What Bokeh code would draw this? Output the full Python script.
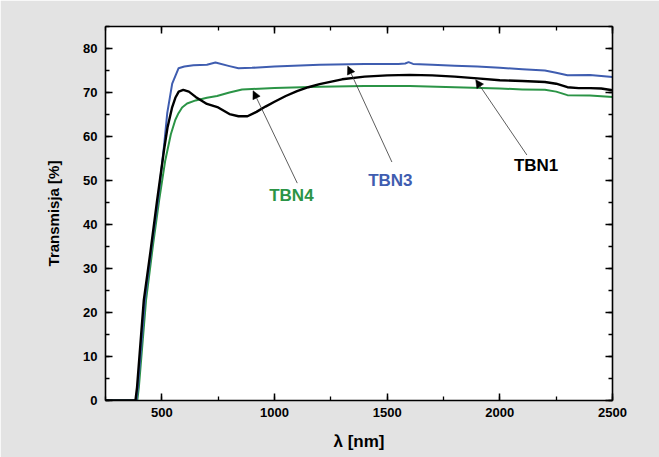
from bokeh.plotting import figure
from bokeh.models import (LinearAxis, SingleIntervalTicker, Arrow, NormalHead,
                          Range1d, ColumnDataSource, BoxAnnotation)
from bokeh.core.properties import value
from bokeh.embed import file_html
from bokeh.resources import INLINE

# ---------------- data ----------------
tbn1_wl = [250, 383, 390, 420, 450, 479, 510, 525, 545, 560, 575, 595, 620, 650, 675,
           700, 750, 800, 840, 880, 920, 960, 1000, 1050, 1100, 1150, 1200, 1300, 1400,
           1500, 1600, 1700, 1800, 1900, 2000, 2100, 2200, 2250, 2300, 2350, 2400, 2450, 2500]
tbn1_t = [0, 0, 3, 22.8, 34, 45.5, 57, 62, 66.5, 68.8, 70.2, 70.6, 70.2, 69.0, 68.2,
          67.4, 66.6, 65.1, 64.6, 64.6, 65.6, 66.8, 67.9, 69.2, 70.3, 71.2, 71.9, 73.0, 73.6,
          73.9, 74.0, 73.9, 73.6, 73.2, 72.8, 72.6, 72.4, 72.0, 71.2, 71.0, 71.0, 70.9, 70.5]

tbn3_wl = [250, 387, 394, 425, 455, 483, 510, 524, 546, 574, 600, 640, 700, 738, 800, 840,
           900, 1000, 1200, 1400, 1550, 1580, 1595, 1615, 1700, 1800, 1900, 2000, 2100,
           2200, 2250, 2300, 2400, 2500]
tbn3_t = [0, 0, 3, 22.8, 35, 45.5, 58, 65.3, 72.0, 75.5, 75.9, 76.2, 76.3, 76.8, 76.0, 75.5,
          75.6, 75.9, 76.3, 76.5, 76.5, 76.6, 76.9, 76.5, 76.3, 76.1, 75.9, 75.6, 75.3,
          75.0, 74.5, 73.9, 74.0, 73.5]

tbn4_wl = [250, 391, 398, 430, 460, 488, 515, 540, 560, 574, 590, 612, 650, 700, 745, 800, 856,
           900, 1000, 1200, 1400, 1600, 1800, 2000, 2100, 2200, 2250, 2300, 2400, 2500]
tbn4_t = [0, 0, 3, 22.8, 35, 45.5, 54.5, 60.5, 63.8, 65.3, 66.6, 67.5, 68.2, 68.8, 69.2, 70.0, 70.7,
          70.8, 71.0, 71.3, 71.5, 71.5, 71.2, 70.9, 70.7, 70.6, 70.2, 69.4, 69.3, 69.0]

x_ticks_interval = 500
y_ticks_interval = 10

labels = ["TBN4", "TBN3", "TBN1"]
label_colors = ["#2b9446", "#3f5db0", "#000000"]

# annotation placement (data units)
label_x = [1075, 1514, 2161]
label_y = [46.7, 50.1, 53.5]
arrow_tail = [(1101, 49.4), (1521, 54.2), (2120, 55.8)]
arrow_head = [(905, 70.4), (1325, 76.0), (1893, 72.9)]

# ---------------- figure ----------------
FONT = "Liberation Sans"
W, H = 659, 457

p = figure(width=W, height=H, output_backend="svg", toolbar_location=None,
           x_range=Range1d(250, 2500), y_range=Range1d(0, 85),
           min_border_left=105, min_border_top=26, min_border_right=47, min_border_bottom=57,
           background_fill_color="white", border_fill_color="#e3e3e3")
p.outline_line_color = None
p.xgrid.visible = False
p.ygrid.visible = False

# white panel (page) on the grey surround
p.add_layout(BoxAnnotation(left=7, right=W, top=11, bottom=H,
                           left_units="canvas", right_units="canvas",
                           top_units="canvas", bottom_units="canvas",
                           fill_color="white", fill_alpha=1.0, line_color=None,
                           level="underlay"))

xt = SingleIntervalTicker(interval=x_ticks_interval, num_minor_ticks=2)
yt = SingleIntervalTicker(interval=y_ticks_interval, num_minor_ticks=2)

def style_axis(ax, show_labels=True):
    ax.axis_line_width = 1.6
    ax.axis_line_color = "black"
    ax.major_tick_line_width = 1.5
    ax.minor_tick_line_width = 1.3
    ax.major_tick_in = 7
    ax.major_tick_out = 0
    ax.minor_tick_in = 4
    ax.minor_tick_out = 0
    ax.major_label_text_font = FONT
    ax.major_label_text_font_style = "bold"
    ax.major_label_text_font_size = "13px"
    ax.major_label_text_color = "black"
    ax.axis_label_text_font = FONT
    ax.axis_label_text_font_style = "bold"
    ax.axis_label_text_color = "black"
    if not show_labels:
        ax.major_label_text_color = None
        ax.major_label_standoff = 0

p.xaxis.ticker = xt
p.yaxis.ticker = yt
style_axis(p.xaxis[0])
style_axis(p.yaxis[0])
p.xaxis.major_label_standoff = 7
p.yaxis.major_label_standoff = 8
p.xaxis.axis_label = "λ [nm]"
p.xaxis.axis_label_text_font_size = "17px"
p.xaxis.axis_label_standoff = 12
p.yaxis.axis_label = "Transmisja [%]"
p.yaxis.axis_label_text_font_size = "15px"
p.yaxis.axis_label_standoff = 18

top = LinearAxis(ticker=xt)
style_axis(top, show_labels=False)
p.add_layout(top, "above")
right = LinearAxis(ticker=yt)
style_axis(right, show_labels=False)
p.add_layout(right, "right")

# ---------------- curves ----------------
p.line(tbn4_wl, tbn4_t, line_color=label_colors[0], line_width=2.0, line_join="round")
p.line(tbn3_wl, tbn3_t, line_color=label_colors[1], line_width=2.0, line_join="round")
p.line(tbn1_wl, tbn1_t, line_color=label_colors[2], line_width=2.4, line_join="round")

# ---------------- arrows & labels ----------------
for (x0, y0), (x1, y1) in zip(arrow_tail, arrow_head):
    p.add_layout(Arrow(x_start=x0, y_start=y0, x_end=x1, y_end=y1,
                       line_color="#333333", line_width=0.8,
                       end=NormalHead(size=8, fill_color="black", line_color="black",
                                      line_width=0.5)))

src = ColumnDataSource(dict(x=label_x, y=label_y, text=labels, color=label_colors))
p.text(x="x", y="y", text="text", text_color="color", source=src,
       text_font=value(FONT), text_font_style="bold", text_font_size="17px",
       text_align="center", text_baseline="middle")

open("out.html", "w").write(file_html(p, INLINE, title="Transmisja"))
